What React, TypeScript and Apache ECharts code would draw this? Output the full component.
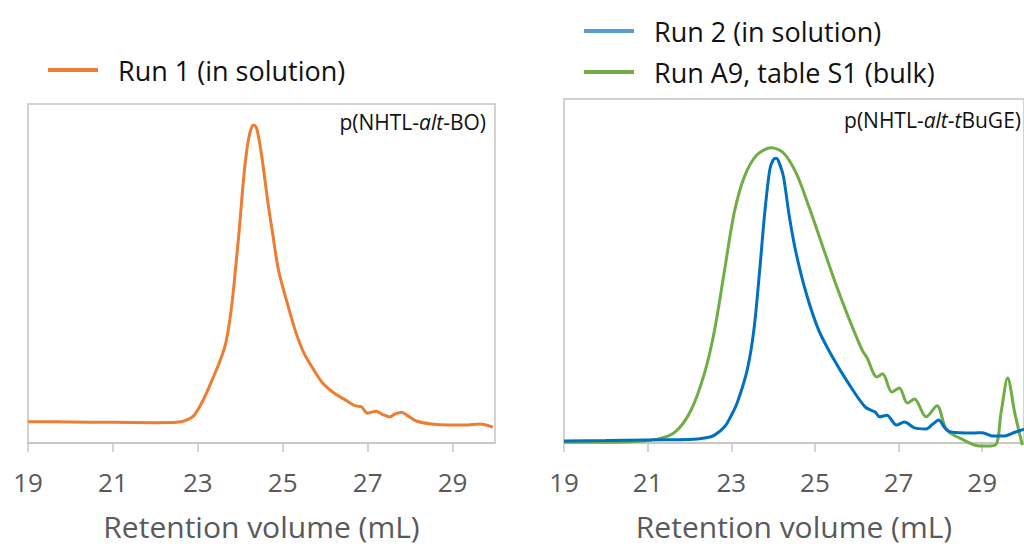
import React, { useEffect, useRef } from "react";
import * as echarts from "echarts";

const xTicks = [19, 21, 23, 25, 27, 29];
const axisTitle = "Retention volume (mL)";

const run1Name = "Run 1 (in solution)";
const run2Name = "Run 2 (in solution)";
const runA9Name = "Run A9, table S1 (bulk)";

// Left panel: p(NHTL-alt-BO), Run 1 (retention volume mL, relative signal)
const run1: [number, number][] = [
  [19.0, 6.3], [20.0, 6.2], [21.0, 6.1], [22.0, 6.0], [22.5, 6.1], [22.7, 6.6],
  [22.9, 8.0], [23.1, 12.0], [23.3, 17.5], [23.5, 23.5], [23.65, 29], [23.75, 36],
  [23.83, 44], [23.9, 53], [23.97, 62], [24.05, 74], [24.12, 83], [24.2, 90],
  [24.27, 93.2], [24.32, 93.8], [24.38, 93], [24.45, 89], [24.54, 81.5], [24.65, 71],
  [24.76, 62], [24.9, 51], [25.09, 42], [25.3, 33], [25.5, 26.5], [25.71, 22],
  [25.94, 17.7], [26.2, 14.8], [26.5, 12.5], [26.7, 11.0], [26.85, 10.7], [27.0, 8.8],
  [27.2, 9.4], [27.35, 8.4], [27.52, 7.7], [27.65, 8.6], [27.8, 9.1], [27.95, 8.0],
  [28.15, 6.5], [28.5, 5.6], [28.9, 5.3], [29.3, 5.3], [29.64, 5.6], [29.95, 4.7],
];

// Right panel: p(NHTL-alt-tBuGE), Run 2 (in solution)
const run2: [number, number][] = [
  [19.0, 0.6], [20.0, 0.7], [21.0, 0.9], [22.0, 1.0], [22.4, 1.5], [22.6, 2.3],
  [22.84, 4.7], [23.0, 8], [23.14, 11.6], [23.38, 21.2], [23.54, 32.8], [23.68, 50.3],
  [23.8, 66.9], [23.92, 79.4], [24.0, 82.3], [24.08, 82.8], [24.16, 81], [24.25, 77.3],
  [24.39, 65.7], [24.55, 55.2], [24.79, 43.6], [25.09, 32.8], [25.42, 25.0], [25.8, 17.4],
  [26.2, 10.5], [26.44, 9.0], [26.55, 7.6], [26.72, 8.1], [26.95, 5.2], [27.14, 6.1],
  [27.38, 4.4], [27.66, 4.1], [27.82, 5.5], [27.96, 6.7], [28.1, 4.5], [28.25, 3.2],
  [28.79, 2.9], [29.0, 3.0], [29.26, 2.0], [29.5, 2.0], [29.8, 3.2], [30.0, 4.0],
];

// Right panel: Run A9, table S1 (bulk)
const runA9: [number, number][] = [
  [19.0, 0.2], [20.48, 0.3], [21.26, 1.2], [21.66, 3.2], [22.04, 9.6], [22.36, 20.3],
  [22.6, 32.8], [22.84, 50.3], [23.07, 66.9], [23.31, 77.3], [23.61, 83.7], [23.96, 85.8],
  [24.25, 84.3], [24.55, 78.5], [24.86, 68.6], [25.19, 57.0], [25.49, 46.5], [25.8, 36.6],
  [26.13, 27.0], [26.25, 24.7], [26.48, 19.2], [26.62, 20.1], [26.84, 14.8], [27.02, 16.0],
  [27.21, 11.6], [27.38, 12.8], [27.66, 7.6], [27.92, 10.8], [28.15, 3.8], [28.55, 0.9],
  [28.95, -0.9], [29.31, -0.6], [29.45, 8.7], [29.61, 18.9], [29.78, 8.7], [29.96, -0.6],
];

const FONT = "'Open Sans', 'DejaVu Sans', sans-serif";
const GRAY = "#595959";
const BORDER = "#C4C4C4";

function xAxisFor(gridIndex: number) {
  return {
    type: "value",
    gridIndex,
    min: 19,
    max: 30,
    interval: 2,
    splitLine: { show: false },
    axisLine: { show: true, lineStyle: { color: BORDER, width: 1.5 } },
    axisTick: { show: true, length: 9, customValues: xTicks, lineStyle: { color: BORDER, width: 1.5 } },
    axisLabel: {
      customValues: xTicks,
      margin: 26,
      color: GRAY,
      fontSize: 26,
      fontFamily: FONT,
    },
    name: axisTitle,
    nameLocation: "middle",
    nameGap: 68,
    nameTextStyle: { color: GRAY, fontSize: 30, fontFamily: FONT },
  };
}

function legendFor(name: string, color: string, left: number, top: number) {
  return {
    show: true,
    left,
    top,
    orient: "horizontal",
    icon: "rect",
    itemWidth: 50,
    itemHeight: 4,
    padding: 0,
    data: [{ name, itemStyle: { color } }],
    textStyle: {
      color: "#111",
      fontSize: 27,
      fontFamily: FONT,
      lineHeight: 30,
      padding: [0, 0, 0, 15],
    },
  };
}

export default function App() {
  const ref = useRef<HTMLDivElement>(null);
  useEffect(() => {
    if (!ref.current) return;
    const chart = echarts.init(ref.current, null, { renderer: "svg" });
    const option: any = {
      animation: false,
      backgroundColor: "#fff",
      grid: [
        { left: 28, top: 104, width: 467, bottom: 104, show: true, borderColor: BORDER, borderWidth: 1.5, containLabel: false },
        { left: 564, top: 99, width: 467, bottom: 104, show: true, borderColor: BORDER, borderWidth: 1.5, containLabel: false },
      ],
      xAxis: [xAxisFor(0), xAxisFor(1)],
      yAxis: [
        { type: "value", gridIndex: 0, min: 0, max: 100, show: false, splitLine: { show: false } },
        { type: "value", gridIndex: 1, min: 0, max: 100, show: false, splitLine: { show: false } },
      ],
      legend: [
        legendFor(run1Name, "#ED7D31", 48, 55),
        legendFor(run2Name, "#5B9BD5", 584, 16),
        legendFor(runA9Name, "#70AD47", 584, 57),
      ],
      graphic: [
        {
          type: "text",
          x: 486,
          y: 122,
          style: {
            text: "{a|p(NHTL-}{b|alt}{a|-BO)}",
            align: "right",
            verticalAlign: "middle",
            rich: {
              a: { fontSize: 21, fontFamily: FONT, fill: "#111" },
              b: { fontSize: 21, fontFamily: FONT, fill: "#111", fontStyle: "italic" },
            },
          },
        },
        {
          type: "text",
          x: 1021,
          y: 120,
          style: {
            text: "{a|p(NHTL-}{b|alt}{a|-}{b|t}{a|BuGE)}",
            align: "right",
            verticalAlign: "middle",
            rich: {
              a: { fontSize: 21, fontFamily: FONT, fill: "#111" },
              b: { fontSize: 21, fontFamily: FONT, fill: "#111", fontStyle: "italic" },
            },
          },
        },
      ],
      series: [
        {
          name: run1Name,
          type: "line",
          xAxisIndex: 0,
          yAxisIndex: 0,
          data: run1,
          symbol: "none",
          smooth: 0.3,
          lineStyle: { color: "#ED7D31", width: 3 },
          itemStyle: { color: "#ED7D31" },
        },
        {
          name: runA9Name,
          type: "line",
          xAxisIndex: 1,
          yAxisIndex: 1,
          data: runA9,
          symbol: "none",
          smooth: 0.3,
          clip: false,
          lineStyle: { color: "#70AD47", width: 3 },
          itemStyle: { color: "#70AD47" },
        },
        {
          name: run2Name,
          type: "line",
          xAxisIndex: 1,
          yAxisIndex: 1,
          data: run2,
          symbol: "none",
          smooth: 0.3,
          lineStyle: { color: "#0070C0", width: 3 },
          itemStyle: { color: "#0070C0" },
        },
      ],
    };
    chart.setOption(option);
    return () => chart.dispose();
  }, []);
  return (
    <div
      ref={ref}
      style={{ position: "fixed", left: 0, top: 0, width: 1024, height: 547, background: "#fff" }}
    />
  );
}
